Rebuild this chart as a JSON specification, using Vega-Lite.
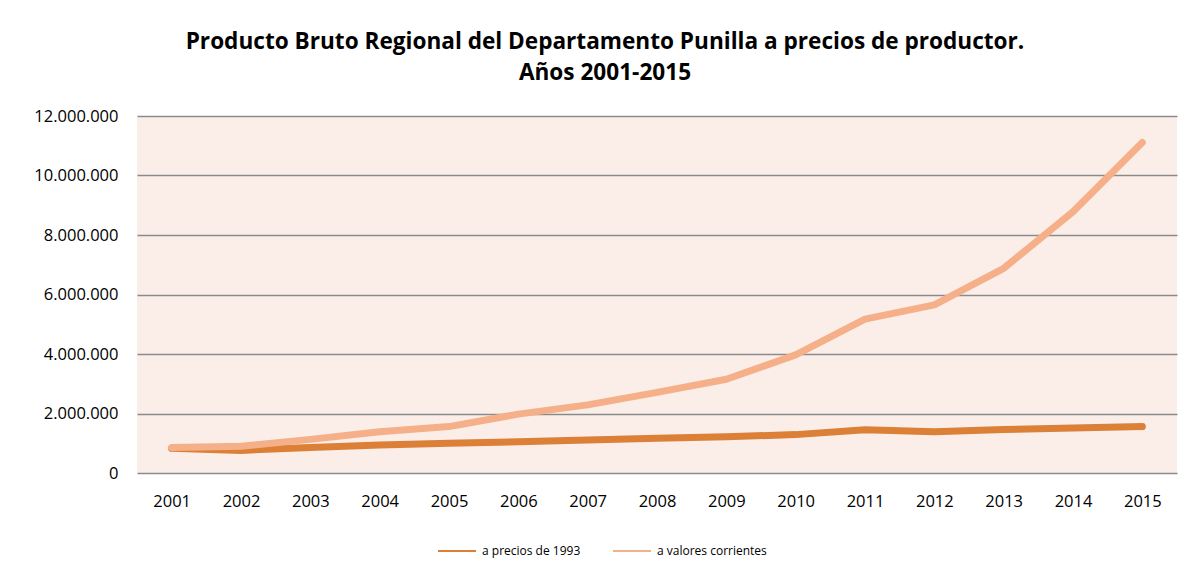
{
  "$schema": "https://vega.github.io/schema/vega-lite/v6.json",
  "width": 1040,
  "height": 357,
  "autosize": {"type": "none"},
  "padding": {"left": 137, "top": 116, "right": 13, "bottom": 101},
  "background": "#ffffff",
  "title": {
    "text": ["Producto Bruto Regional del Departamento Punilla a precios de productor.", "Años 2001-2015"],
    "font": "Open Sans",
    "fontSize": 22.6,
    "fontWeight": "bold",
    "color": "#000000",
    "anchor": "middle",
    "dx": -52,
    "offset": 23,
    "lineHeight": 31
  },
  "data": {
    "values": [
      {"anio": "2001", "serie": "a precios de 1993", "valor": 830000},
      {"anio": "2002", "serie": "a precios de 1993", "valor": 760000},
      {"anio": "2003", "serie": "a precios de 1993", "valor": 860000},
      {"anio": "2004", "serie": "a precios de 1993", "valor": 940000},
      {"anio": "2005", "serie": "a precios de 1993", "valor": 1000000},
      {"anio": "2006", "serie": "a precios de 1993", "valor": 1050000},
      {"anio": "2007", "serie": "a precios de 1993", "valor": 1110000},
      {"anio": "2008", "serie": "a precios de 1993", "valor": 1170000},
      {"anio": "2009", "serie": "a precios de 1993", "valor": 1220000},
      {"anio": "2010", "serie": "a precios de 1993", "valor": 1290000},
      {"anio": "2011", "serie": "a precios de 1993", "valor": 1450000},
      {"anio": "2012", "serie": "a precios de 1993", "valor": 1390000},
      {"anio": "2013", "serie": "a precios de 1993", "valor": 1460000},
      {"anio": "2014", "serie": "a precios de 1993", "valor": 1510000},
      {"anio": "2015", "serie": "a precios de 1993", "valor": 1560000},
      {"anio": "2001", "serie": "a valores corrientes", "valor": 860000},
      {"anio": "2002", "serie": "a valores corrientes", "valor": 900000},
      {"anio": "2003", "serie": "a valores corrientes", "valor": 1130000},
      {"anio": "2004", "serie": "a valores corrientes", "valor": 1390000},
      {"anio": "2005", "serie": "a valores corrientes", "valor": 1560000},
      {"anio": "2006", "serie": "a valores corrientes", "valor": 1980000},
      {"anio": "2007", "serie": "a valores corrientes", "valor": 2290000},
      {"anio": "2008", "serie": "a valores corrientes", "valor": 2710000},
      {"anio": "2009", "serie": "a valores corrientes", "valor": 3150000},
      {"anio": "2010", "serie": "a valores corrientes", "valor": 3970000},
      {"anio": "2011", "serie": "a valores corrientes", "valor": 5170000},
      {"anio": "2012", "serie": "a valores corrientes", "valor": 5650000},
      {"anio": "2013", "serie": "a valores corrientes", "valor": 6880000},
      {"anio": "2014", "serie": "a valores corrientes", "valor": 8780000},
      {"anio": "2015", "serie": "a valores corrientes", "valor": 11110000}
    ]
  },
  "mark": {"type": "line", "strokeWidth": 7, "strokeCap": "round", "strokeJoin": "round"},
  "encoding": {
    "x": {
      "field": "anio",
      "type": "ordinal",
      "scale": {"type": "point", "padding": 0.5},
      "axis": {
        "title": null,
        "labelAngle": 0,
        "ticks": false,
        "domain": false,
        "labelPadding": 20,
        "labelFont": "Open Sans",
        "labelFontSize": 16.5,
        "labelColor": "#000000"
      }
    },
    "y": {
      "field": "valor",
      "type": "quantitative",
      "scale": {"domain": [0, 12000000], "nice": false},
      "axis": {
        "title": null,
        "values": [0, 2000000, 4000000, 6000000, 8000000, 10000000, 12000000],
        "labelExpr": "replace(format(datum.value, ',d'), /,/g, '.')",
        "ticks": false,
        "domain": false,
        "labelPadding": 19,
        "labelFont": "Open Sans",
        "labelFontSize": 16.5,
        "labelColor": "#000000",
        "grid": true,
        "gridColor": "#8a8a8a",
        "gridWidth": 1.5
      }
    },
    "color": {
      "field": "serie",
      "type": "nominal",
      "scale": {"domain": ["a precios de 1993", "a valores corrientes"], "range": ["#DB8036", "#F5B08A"]},
      "legend": {
        "title": null,
        "orient": "none",
        "legendX": 300,
        "legendY": 415,
        "direction": "horizontal",
        "symbolType": "stroke",
        "symbolSize": 1444,
        "symbolStrokeWidth": 2,
        "labelFont": "Open Sans",
        "labelFontSize": 12,
        "labelColor": "#000000",
        "labelOffset": 5,
        "columnPadding": 28
      }
    },
    "order": {"field": "serie", "sort": "ascending"}
  },
  "config": {
    "view": {"fill": "#FBEEE8", "stroke": null}
  }
}
